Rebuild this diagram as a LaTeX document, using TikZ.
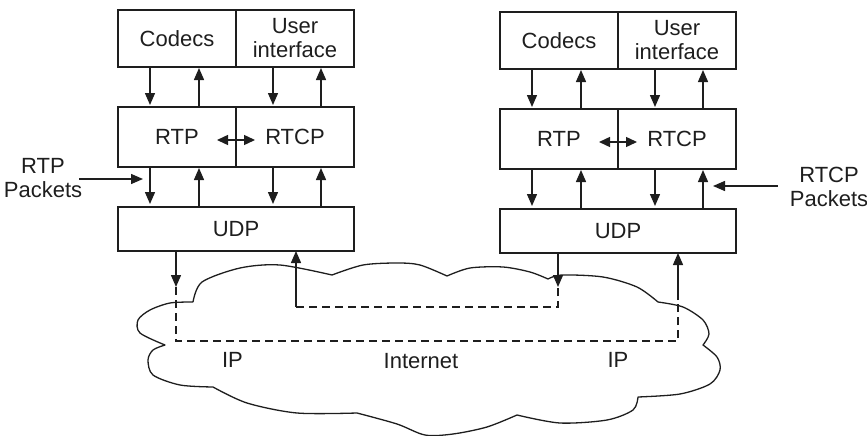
\documentclass[tikz,border=0pt]{standalone}
\usepackage{fontspec}
\setmainfont{Liberation Sans}
\usetikzlibrary{arrows.meta}
\definecolor{ink}{RGB}{30,30,30}

\tikzset{
  lbl/.style={font=\fontsize{22}{24}\selectfont, text=ink, align=center},
  box/.style={lbl, draw=ink, line width=1.4pt, inner sep=0pt, outer sep=0pt, anchor=north west},
  arr/.style={draw=ink, line width=1.4pt, -{Triangle[length=12pt,width=10pt]}},
  biarr/.style={draw=ink, line width=1.4pt, {Triangle[length=11pt,width=10pt]}-{Triangle[length=11pt,width=10pt]}},
  ipath/.style={draw=ink, line width=1.2pt, dash pattern=on 8pt off 5pt},
  cloudline/.style={draw=ink, line width=1.3pt, line join=round},
}

% one protocol stack: #1 = name prefix, (#2,#3) = top left corner
\newcommand\protostack[3]{%
  \begin{scope}[shift={(#2,#3)}]
    \node[box, minimum width=118pt, minimum height=57pt] (#1codec) at (0,0) {Codecs};
    \node[box, minimum width=118pt, minimum height=57pt] (#1ui) at (118,0) {User\\interface};
    \node[box, minimum width=118pt, minimum height=60pt] (#1rtp) at (0,97) {RTP};
    \node[box, minimum width=118pt, minimum height=60pt] (#1rtcp) at (118,97) {RTCP};
    \node[box, minimum width=236pt, minimum height=44pt] (#1udp) at (0,197) {UDP};
  \end{scope}
  % application layer <-> RTP/RTCP
  \draw[arr, shorten <=1pt, shorten >=2pt] ([xshift=32pt]#1codec.south west) -- ([xshift=32pt]#1rtp.north west);
  \draw[arr, shorten >=1pt] ([xshift=81pt]#1rtp.north west) -- ([xshift=81pt]#1codec.south west);
  \draw[arr, shorten <=1pt, shorten >=2pt] ([xshift=37pt]#1ui.south west) -- ([xshift=37pt]#1rtcp.north west);
  \draw[arr, shorten >=1pt] ([xshift=85pt]#1rtcp.north west) -- ([xshift=85pt]#1ui.south west);
  % RTP/RTCP <-> UDP
  \draw[arr, shorten <=1pt, shorten >=3pt] ([xshift=32pt]#1rtp.south west) -- ([xshift=32pt]#1udp.north west);
  \draw[arr, shorten >=1pt] ([xshift=81pt]#1udp.north west) -- ([xshift=81pt]#1rtp.south west);
  \draw[arr, shorten <=1pt, shorten >=3pt] ([xshift=37pt]#1rtcp.south west) -- ([xshift=155pt]#1udp.north west);
  \draw[arr, shorten >=1pt] ([xshift=203pt]#1udp.north west) -- ([xshift=85pt]#1rtcp.south west);
  % RTP <-> RTCP
  \draw[biarr] ([xshift=-19pt,yshift=-3pt]#1rtp.east) -- ([xshift=19pt,yshift=-3pt]#1rtp.east);
}

\begin{document}
\begin{tikzpicture}[x=1pt,y=-1pt]
\useasboundingbox (0,0) rectangle (867,436);

% the Internet cloud
\draw[cloudline]
  plot[smooth] coordinates {(193,302) (202,282) (240,268) (280,265) (332,275)}
  -- plot[smooth] coordinates {(332,275) (363,265) (397,263) (420,265) (447,276)}
  -- plot[smooth] coordinates {(447,276) (470,268) (503,267) (530,272) (548,279)}
  -- plot[smooth] coordinates {(548,279) (562,275) (603,277) (637,287) (658,302)}
  -- plot[smooth] coordinates {(658,302) (683,307) (703,320) (709,334) (703,345)}
  -- plot[smooth] coordinates {(703,345) (717,357) (720,370) (710,384) (680,394) (638,397)}
  -- plot[smooth] coordinates {(638,397) (633,410) (607,420) (560,423) (517,415)}
  -- plot[smooth] coordinates {(517,415) (487,427) (453,434) (425,435) (397,424) (357,413)}
  -- plot[smooth] coordinates {(357,413) (297,413) (247,403) (213,387)}
  -- plot[smooth] coordinates {(213,387) (180,385) (153,375) (148,360) (153,350) (165,345)}
  -- plot[smooth] coordinates {(165,345) (140,333) (138,320) (150,310) (170,303) (193,302)};

% the two hosts
\protostack{L}{118}{10}
\protostack{R}{500}{12}

% packet labels
\node[lbl, inner sep=0pt] (rtppk) at (43,178) {RTP\\Packets};
\node[lbl, inner sep=0pt] (rtcppk) at (829,187) {RTCP\\Packets};
\coordinate (rtpin) at (143,179);
\coordinate (rtcpin) at (713,186);
\draw[arr, shorten <=-3pt] (rtppk.east |- rtpin) -- (rtpin);
\draw[arr, shorten <=12pt] (rtcppk.west |- rtcpin) -- (rtcpin);

% paths through the network
\coordinate (ipA1) at (176,287);
\coordinate (ipA2) at (176,341);
\coordinate (ipA3) at (678,341);
\coordinate (ipA4) at (678,300);
\coordinate (ipB1) at (296,307);
\coordinate (ipB2) at (558,307);
\coordinate (ipB3) at (558,287);

\draw[arr] ([xshift=58pt]Ludp.south west) -- (ipA1);
\draw[ipath] (ipA1) -- (ipA2) -- (ipA3) -- (ipA4);
\draw[arr] (ipA4) -- ([xshift=178pt]Rudp.south west);

\draw[arr] (ipB1) -- ([xshift=178pt]Ludp.south west);
\draw[ipath] (ipB1) -- (ipB2) -- (ipB3);
\draw[arr] ([xshift=58pt]Rudp.south west) -- (ipB3);

% cloud labels
\node[lbl] (ipl) at (232.5,360) {IP};
\node[lbl] (inet) at (421,361) {Internet};
\node[lbl] (ipr) at (618,360) {IP};
\end{tikzpicture}
\end{document}
